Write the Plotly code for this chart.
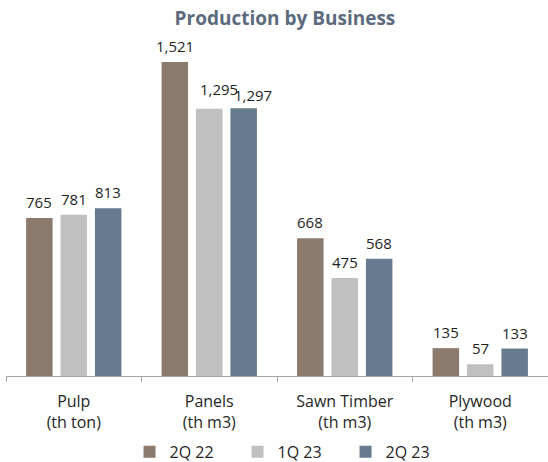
import plotly.graph_objects as go

categories = ["Pulp<br>(th ton)", "Panels<br>(th m3)", "Sawn Timber<br>(th m3)", "Plywood<br>(th m3)"]
series_names = ["2Q 22", "1Q 23", "2Q 23"]
values_2q22 = [765, 1521, 668, 135]
values_1q23 = [781, 1295, 475, 57]
values_2q23 = [813, 1297, 568, 133]
colors = ["#8c7a6d", "#c0c0c0", "#677b8f"]

font_family = "Open Sans, Noto Sans, sans-serif"

# pixel offsets of each series' bar from the category centre, and label nudges
series_offsets = [-34.5, 0, 34.5]
label_nudges = {(1, 1): (10, 4), (2, 1): (9, -3)}  # (series, category): (dx, dy)

fig = go.Figure()
all_series = [values_2q22, values_1q23, values_2q23]
for name, vals, col in zip(series_names, all_series, colors):
    fig.add_trace(go.Bar(
        x=categories, y=vals, name=name,
        marker=dict(color=col, line=dict(width=0)),
        hoverinfo="x+y+name",
    ))

for si, vals in enumerate(all_series):
    for ci, v in enumerate(vals):
        dx, dy = label_nudges.get((si, ci), (0, 0))
        fig.add_annotation(
            x=categories[ci], y=v, text=f"{v:,}", showarrow=False,
            xshift=series_offsets[si] + dx, yshift=16 + dy,
            yanchor="middle", xanchor="center",
            font=dict(size=15, color="#1f1f1f", family=font_family),
        )

fig.update_layout(
    width=548, height=462,
    margin=dict(l=6, r=0, t=40, b=86, autoexpand=False),
    paper_bgcolor="white", plot_bgcolor="white",
    font=dict(family=font_family, size=16, color="#262626"),
    title=dict(text="<b>Production by Business</b>", x=0.52, xanchor="center", y=0.96, yanchor="middle",
               font=dict(size=19, color="#5b6b7d", family=font_family)),
    barmode="group", bargap=0.238, bargroupgap=0.23,
    showlegend=True,
    legend=dict(orientation="h", x=0.532, xanchor="center", xref="container",
                y=0.022, yanchor="middle", yref="container",
                font=dict(size=16, color="#262626"), itemwidth=30, traceorder="normal",
                entrywidth=63, entrywidthmode="pixels"),
)
fig.update_xaxes(showline=True, linecolor="#a6a6a6", linewidth=1, ticks="outside", tickcolor="#a6a6a6",
                 ticklen=5, tickson="boundaries", showgrid=False, tickfont=dict(size=16, color="#262626"),
                 ticklabelstandoff=11, automargin=False)
fig.update_yaxes(visible=False, range=[0, 1628])

fig.write_html("out.html")
